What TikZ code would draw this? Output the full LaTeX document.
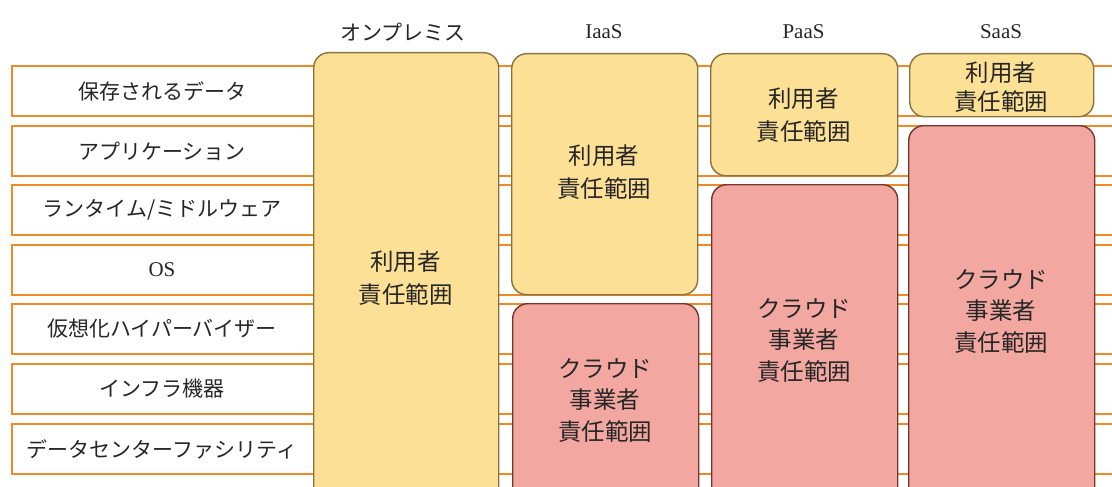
\documentclass[tikz,border=0pt]{standalone}
\usepackage{fontspec}
\setmainfont{Noto Sans CJK JP}
\newfontfamily\latinserif{Liberation Serif}
\definecolor{rowor}{RGB}{238,138,42}
\definecolor{yfill}{RGB}{252,224,150}
\definecolor{ydraw}{RGB}{135,115,60}
\definecolor{rfill}{RGB}{242,168,160}
\definecolor{rdraw}{RGB}{120,52,44}
\definecolor{txt}{RGB}{38,38,38}
\begin{document}
\begin{tikzpicture}[x=1pt,y=-1pt,
  rowbox/.style={draw=rowor,line width=2pt,fill=white,anchor=north west,minimum width=1300pt,minimum height=50pt,inner sep=0pt},
  rowlbl/.style={text=txt,font=\fontsize{21}{24}\selectfont,inner sep=0pt},
  ybox/.style={draw=ydraw,line width=1.4pt,fill=yfill,rounded corners=15pt,anchor=north west,inner sep=0pt},
  rbox/.style={draw=rdraw,line width=1.4pt,fill=rfill,rounded corners=15pt,anchor=north west,inner sep=0pt},
  boxlbl/.style={text=txt,font=\fontsize{23.5}{33}\selectfont,align=center,inner sep=0pt},
  hdr/.style={text=txt,font=\fontsize{21}{22}\selectfont,inner sep=0pt}]
\useasboundingbox (0,0) rectangle (1112,487);
\clip (0,0) rectangle (1112,487);
% rows
\node[rowbox] (r1) at (11,65) {};
\node[rowbox] (r2) at (11,125) {};
\node[rowbox] (r3) at (11,184) {};
\node[rowbox] (r4) at (11,244) {};
\node[rowbox] (r5) at (11,303) {};
\node[rowbox] (r6) at (11,363) {};
\node[rowbox] (r7) at (11,423) {};
\node[rowlbl] (l1) at (162,91) {保存されるデータ};
\node[rowlbl] (l2) at (162,151) {アプリケーション};
\node[rowlbl] (l3) at (162,210) {ランタイム/ミドルウェア};
\node[rowlbl] (l4) at (162,270) {\latinserif OS};
\node[rowlbl] (l5) at (162,329) {仮想化ハイパーバイザー};
\node[rowlbl] (l6) at (162,389) {インフラ機器};
\node[rowlbl] (l7) at (162,449) {データセンターファシリティ};
% headers
\node[hdr] (h1) at (403,32) {オンプレミス};
\node[hdr] (h2) at (604,32) {\latinserif IaaS};
\node[hdr] (h3) at (803.5,32) {\latinserif PaaS};
\node[hdr] (h4) at (1001,32) {\latinserif SaaS};
% on-premise
\node[ybox,minimum width=185pt,minimum height=452pt] (onp) at (313,52) {};
\node[boxlbl] (tonp) at (405.5,278) {利用者\\責任範囲};
% IaaS
\node[ybox,minimum width=186pt,minimum height=241pt] (iy) at (511,53) {};
\node[boxlbl] (tiy) at (604,172) {利用者\\責任範囲};
\node[rbox,minimum width=186pt,minimum height=200pt] (ir) at (512,303) {};
\node[boxlbl,font=\fontsize{23.5}{31.5}\selectfont] (tir) at (605,400) {クラウド\\事業者\\責任範囲};
% PaaS
\node[ybox,minimum width=187pt,minimum height=122pt] (py) at (710,53) {};
\node[boxlbl] (tpy) at (803.5,115.5) {利用者\\責任範囲};
\node[rbox,minimum width=186pt,minimum height=320pt] (pr) at (711,184) {};
\node[boxlbl,font=\fontsize{23.5}{31.5}\selectfont] (tpr) at (804,340) {クラウド\\事業者\\責任範囲};
% SaaS
\node[ybox,minimum width=184pt,minimum height=63pt] (sy) at (909,53) {};
\node[boxlbl,font=\fontsize{23.5}{29}\selectfont] (tsy) at (1001,87) {利用者\\責任範囲};
\node[rbox,minimum width=186pt,minimum height=378pt] (sr) at (908,125) {};
\node[boxlbl,font=\fontsize{23.5}{31.5}\selectfont] (tsr) at (1001,311) {クラウド\\事業者\\責任範囲};
\end{tikzpicture}
\end{document}
